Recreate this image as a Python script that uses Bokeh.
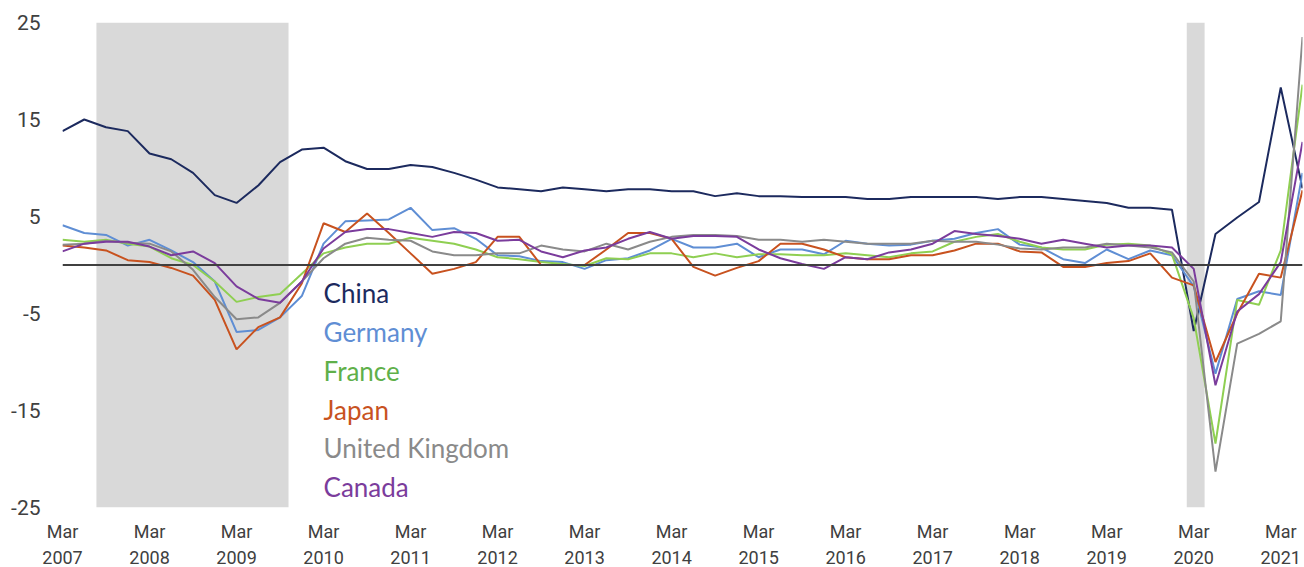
from bokeh.plotting import figure
from bokeh.models import Range1d, FixedTicker, Span, Label
from bokeh.embed import file_html
from bokeh.resources import INLINE

# Quarterly real GDP growth, % y/y, Mar 2007 .. Jun 2021 (index 0 = Mar 2007)
quarters = list(range(58))
years = list(range(2007, 2022))
tick_idx = [4 * k for k in range(len(years))]
tick_labels = ["Mar\n%d" % y for y in years]

china = [13.8, 15.0, 14.2, 13.8, 11.5, 10.9, 9.5, 7.2, 6.4, 8.2,
         10.6, 11.9, 12.1, 10.7, 9.9, 9.9, 10.3, 10.1, 9.5, 8.8,
         8.0, 7.8, 7.6, 8.0, 7.8, 7.6, 7.8, 7.8, 7.6, 7.6,
         7.1, 7.4, 7.1, 7.1, 7.0, 7.0, 7.0, 6.8, 6.8, 7.0,
         7.0, 7.0, 7.0, 6.8, 7.0, 7.0, 6.8, 6.6, 6.4, 5.9,
         5.9, 5.7, -6.8, 3.2, 4.9, 6.5, 18.3, 7.9]
germany = [4.1, 3.3, 3.1, 2.0, 2.6, 1.5, 0.3, -1.7, -6.9, -6.7,
           -5.4, -3.2, 2.2, 4.5, 4.6, 4.7, 5.9, 3.6, 3.8, 2.7,
           1.0, 0.9, 0.4, 0.3, -0.4, 0.5, 0.7, 1.5, 2.7, 1.8,
           1.8, 2.2, 0.8, 1.6, 1.6, 1.1, 2.5, 2.2, 2.0, 2.1,
           2.5, 2.7, 3.3, 3.7, 2.1, 1.8, 0.6, 0.2, 1.6, 0.6,
           1.5, 1.0, -2.2, -11.2, -3.5, -2.7, -3.1, 9.5]
france = [2.6, 2.4, 2.6, 2.2, 1.9, 0.7, 0.0, -1.7, -3.8, -3.3,
          -3.0, -0.9, 1.2, 1.8, 2.2, 2.2, 2.8, 2.5, 2.2, 1.6,
          0.8, 0.6, 0.3, 0.1, -0.1, 0.7, 0.6, 1.2, 1.2, 0.8,
          1.2, 0.8, 1.1, 1.1, 1.0, 1.0, 1.2, 1.0, 0.8, 1.2,
          1.4, 2.4, 2.9, 3.2, 2.4, 1.8, 1.6, 1.6, 2.1, 2.2,
          2.0, 1.1, -5.5, -18.4, -3.6, -4.1, 1.5, 18.6]
japan = [2.0, 1.8, 1.5, 0.5, 0.3, -0.3, -1.1, -3.6, -8.7, -6.4,
         -5.4, -1.9, 4.3, 3.4, 5.3, 3.3, 1.2, -0.9, -0.4, 0.3,
         2.9, 2.9, 0.0, 0.0, 0.0, 1.6, 3.3, 3.3, 2.7, -0.2,
         -1.1, -0.3, 0.4, 2.2, 2.2, 1.6, 0.8, 0.6, 0.6, 1.0,
         1.0, 1.5, 2.2, 2.2, 1.4, 1.3, -0.2, -0.2, 0.2, 0.4,
         1.2, -1.3, -2.1, -10.0, -5.0, -0.9, -1.3, 7.7]
uk = [2.1, 2.2, 2.5, 2.3, 2.2, 1.4, -0.5, -3.3, -5.6, -5.4,
      -3.9, -1.7, 0.7, 2.2, 2.8, 2.6, 2.5, 1.4, 1.0, 1.0,
      1.2, 1.2, 2.0, 1.6, 1.4, 2.2, 1.6, 2.4, 2.9, 3.1,
      3.1, 3.0, 2.6, 2.6, 2.4, 2.6, 2.4, 2.2, 2.2, 2.2,
      2.5, 2.4, 2.4, 2.1, 1.7, 1.6, 1.8, 1.8, 2.2, 2.0,
      1.8, 1.3, -1.7, -21.3, -8.1, -7.1, -5.8, 23.5]
canada = [1.4, 2.2, 2.4, 2.4, 1.9, 1.0, 1.4, 0.2, -2.2, -3.5,
          -3.9, -1.7, 1.7, 3.4, 3.7, 3.7, 3.3, 2.9, 3.4, 3.3,
          2.5, 2.6, 1.4, 0.8, 1.5, 1.8, 2.7, 3.4, 2.7, 3.0,
          3.0, 2.9, 1.6, 0.7, 0.1, -0.4, 0.8, 0.6, 1.3, 1.6,
          2.2, 3.5, 3.2, 3.0, 2.7, 2.2, 2.6, 2.2, 1.8, 2.0,
          2.0, 1.8, -0.4, -12.4, -4.8, -3.0, 0.3, 12.7]

# Recession periods (quarter index)
rec_start = [1.56, 51.68]
rec_end = [10.39, 52.5]

y_ticks = [-25, -15, -5, 5, 15, 25]
y_tick_labels = ["-25", "-15", "-5", "5", "15", "25"]

series_names = ["China", "Germany", "France", "Japan", "United Kingdom", "Canada"]
series_vals = [china, germany, france, japan, uk, canada]
line_colors = ["#1c2a5e", "#5f8ed4", "#8fcf52", "#c8521f", "#8a8a8a", "#7b3c9c"]
text_colors = ["#1c2a5e", "#5f8ed4", "#5fb04a", "#c8521f", "#8a8a8a", "#7b3c9c"]
legend_y = [-2.9, -6.9, -10.9, -14.9, -18.9, -22.9]

AXIS_FONT = "Roboto"
LEGEND_FONT = "Lato"

p = figure(frame_width=1240, frame_height=485, output_backend="svg", toolbar_location=None,
           x_range=Range1d(0, 57), y_range=Range1d(-25, 25),
           min_border_left=62, min_border_right=2, min_border_top=22,
           min_border_bottom=0)
p.outline_line_color = None
p.xgrid.visible = False
p.ygrid.visible = False
p.background_fill_color = "white"

p.quad(left=rec_start, right=rec_end, bottom=-25, top=25,
       fill_color="#d9d9d9", line_color=None)

p.add_layout(Span(location=0, dimension="width", line_color="#404040", line_width=2))

for vals, col in zip(series_vals, line_colors):
    p.line(quarters, vals, line_color=col, line_width=2)

for name, col, yy in zip(series_names, text_colors, legend_y):
    p.add_layout(Label(x=12, y=yy, text=name, text_color=col, text_font=LEGEND_FONT,
                       text_font_size="26px", text_baseline="middle", text_align="left"))

for ax in (p.xaxis[0], p.yaxis[0]):
    ax.axis_line_color = None
    ax.major_tick_line_color = None
    ax.minor_tick_line_color = None
    ax.major_tick_out = 0
    ax.major_tick_in = 0
    ax.minor_tick_out = 0
    ax.major_label_text_font = AXIS_FONT
    ax.major_label_text_color = "#404040"

p.xaxis[0].ticker = FixedTicker(ticks=tick_idx)
p.xaxis[0].major_label_overrides = {t: l for t, l in zip(tick_idx, tick_labels)}
p.xaxis[0].major_label_standoff = 13
p.xaxis[0].major_label_text_font_size = "18px"
p.xaxis[0].major_label_text_line_height = 1.25
p.yaxis[0].ticker = FixedTicker(ticks=y_ticks)
p.yaxis[0].major_label_overrides = {t: l for t, l in zip(y_ticks, y_tick_labels)}
p.yaxis[0].major_label_standoff = 22
p.yaxis[0].major_label_text_font_size = "21px"

open("out.html", "w").write(file_html(p, INLINE))
